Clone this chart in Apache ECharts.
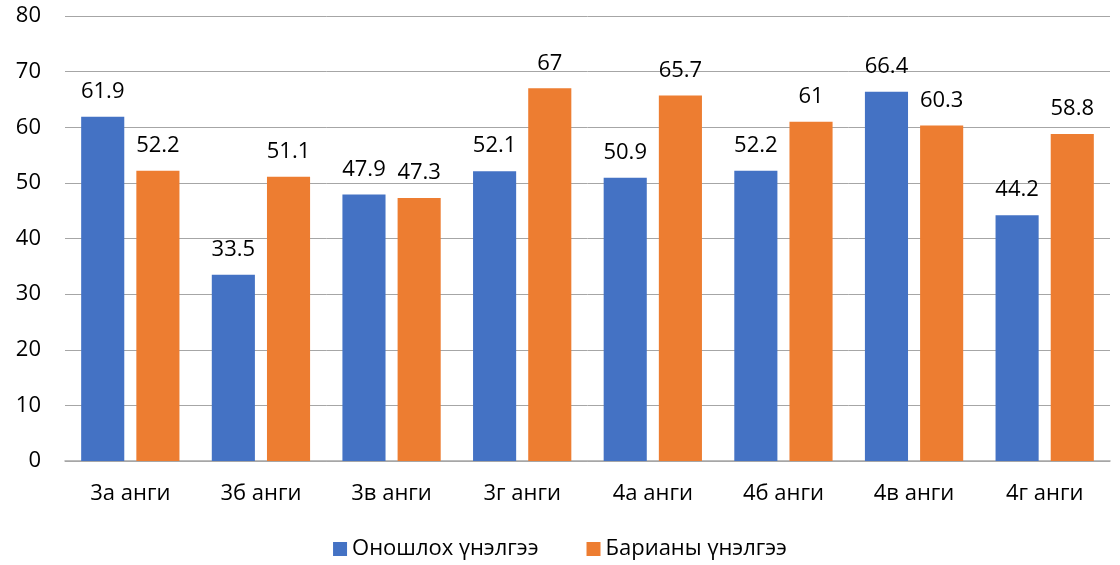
<!DOCTYPE html>
<html><head><meta charset="utf-8">
<script src="https://cdn.jsdelivr.net/npm/echarts@6/dist/echarts.min.js"></script>
<style>html,body{margin:0;padding:0;background:#fff}#c{width:1120px;height:565px}</style>
</head><body><div id="c"></div>
<script>
const categories = ['3а анги','3б анги','3в анги','3г анги','4а анги','4б анги','4в анги','4г анги'];
const seriesNames = ['Оношлох үнэлгээ','Барианы үнэлгээ'];
const diagnostic = [61.9,33.5,47.9,52.1,50.9,52.2,66.4,44.2];
const final = [52.2,51.1,47.3,67,65.7,61,60.3,58.8];
const font = 'Open Sans';
const chart = echarts.init(document.getElementById('c'));
const lbl = {show:true,position:'top',distance:14,color:'#000',fontSize:22,fontFamily:font};
chart.setOption({
  animation:false,
  textStyle:{fontFamily:font},
  grid:{left:65,right:10,top:16,bottom:104},
  legend:{bottom:0,left:'center',itemWidth:14,itemHeight:14,itemGap:48,icon:'rect',
    textStyle:{fontSize:22,color:'#000',fontFamily:font}},
  xAxis:{type:'category',data:categories,
    axisLine:{lineStyle:{color:'#a6a6a6',width:1.5}},axisTick:{show:false},
    axisLabel:{color:'#000',fontSize:22,margin:22,fontFamily:font}},
  yAxis:{type:'value',min:0,max:80,interval:10,
    axisLabel:{color:'#000',fontSize:22,margin:24,fontFamily:font},
    splitLine:{lineStyle:{color:'#a6a6a6',width:1}}},
  series:[
    {name:seriesNames[0],type:'bar',data:diagnostic,barWidth:'33%',barGap:'28%',
     itemStyle:{color:'#4472C4'},label:lbl},
    {name:seriesNames[1],type:'bar',data:final,barWidth:'33%',
     itemStyle:{color:'#ED7D31'},label:lbl}
  ]
});
</script></body></html>
